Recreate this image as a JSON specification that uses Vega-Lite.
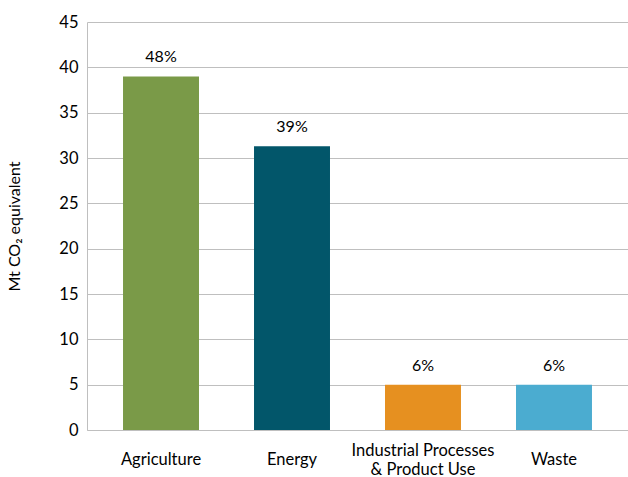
{
  "$schema": "https://vega.github.io/schema/vega-lite/v6.json",
  "width": 541,
  "height": 408,
  "autosize": {"type": "none"},
  "padding": {"left": 87, "top": 22, "right": 0, "bottom": 47},
  "background": "white",
  "config": {"view": {"stroke": null}, "font": "Lato"},
  "data": {"values": [
    {"sector": "Agriculture", "value": 39.0, "pct": "48%"},
    {"sector": "Energy", "value": 31.3, "pct": "39%"},
    {"sector": "Industrial Processes|& Product Use", "value": 5.0, "pct": "6%"},
    {"sector": "Waste", "value": 5.0, "pct": "6%"}
  ]},
  "encoding": {
    "x": {"field": "sector", "type": "nominal", "sort": null,
      "scale": {"paddingInner": 0.42, "paddingOuter": 0.275},
      "axis": {"title": null, "labelAngle": 0, "ticks": false, "domainColor": "#bfbfbf", "labelFontSize": 16.5, "labelColor": "#000",
        "labelPadding": {"condition": {"test": "indexof(datum.label, '|') >= 0", "value": 12}, "value": 21},
        "labelExpr": "split(datum.label, '|')", "labelLineHeight": 19, "labelBaseline": "top"}},
    "y": {"field": "value", "type": "quantitative",
      "scale": {"domain": [0, 45]},
      "axis": {"values": [0,5,10,15,20,25,30,35,40,45], "title": "Mt CO₂ equivalent", "titleFontSize": 16, "titleFontWeight": "normal", "titleColor": "#000", "titlePadding": 36, "ticks": false, "domainColor": "#bfbfbf", "gridColor": "#bfbfbf", "labelFontSize": 16.5, "labelColor": "#000", "labelPadding": 9}}
  },
  "layer": [
    {"mark": {"type": "bar"},
     "encoding": {"color": {"field": "sector", "type": "nominal", "sort": null, "legend": null,
       "scale": {"range": ["#7a9a48", "#02566a", "#e69020", "#4bacd0"]}}}},
    {"mark": {"type": "text", "dy": -19, "fontSize": 16, "color": "#000"},
     "encoding": {"text": {"field": "pct"}}}
  ]
}
